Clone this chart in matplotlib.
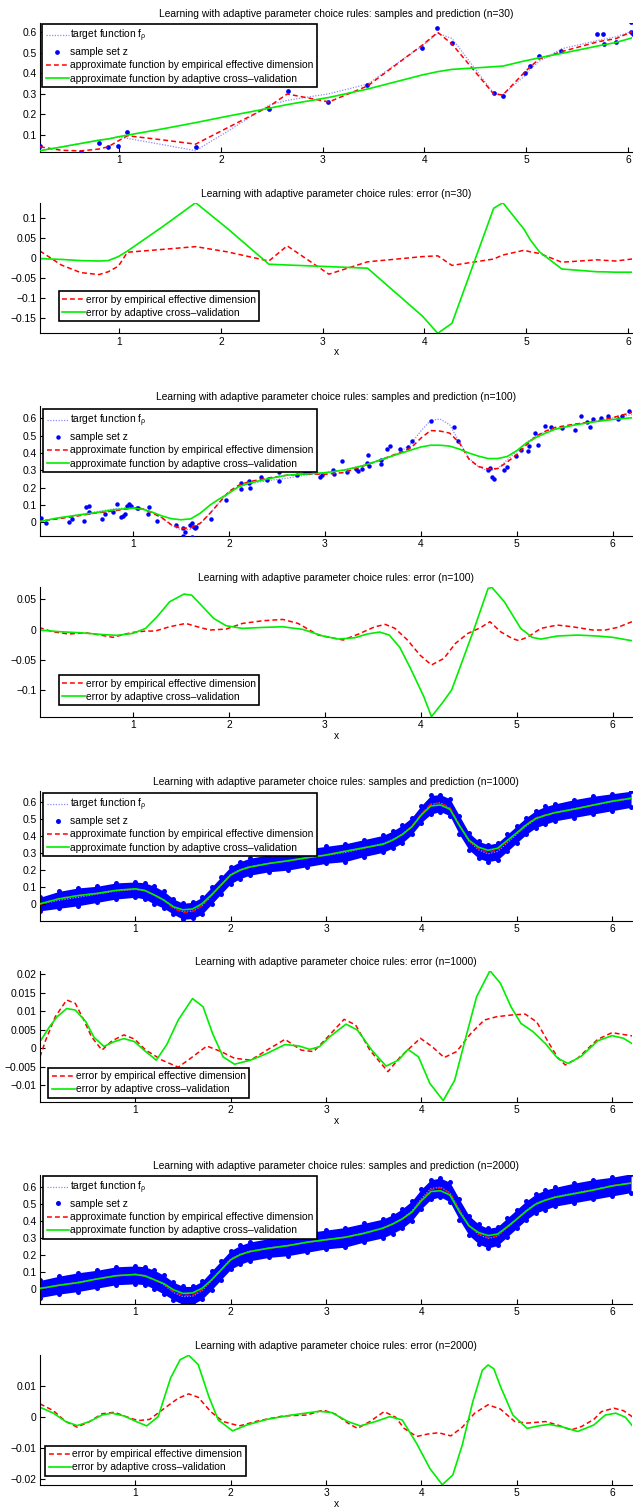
import matplotlib
matplotlib.use("Agg")
import matplotlib.pyplot as plt
from matplotlib.ticker import FuncFormatter

plt.rcParams["font.family"] = ["Liberation Sans", "DejaVu Sans"]
plt.rcParams["mathtext.fontset"] = "custom"
plt.rcParams["mathtext.rm"] = "Liberation Sans"
plt.rcParams["mathtext.it"] = "Liberation Sans:italic"

FS = 7.4
BLUE, RED, GREEN, TARGET = "#0000ff", "#ff0000", "#00ee00", "#8c8cff"

TITLE_FIT = "Learning with adaptive parameter choice rules: samples and prediction (n={})"
TITLE_ERR = "Learning with adaptive parameter choice rules: error (n={})"
LBL_TARGET = r"target function f$_{\mathrm{\rho}}$"
LBL_SAMPLE = "sample set z"
LBL_RED = "approximate function by empirical effective dimension"
LBL_GREEN = "approximate function by adaptive cross\u2013validation"
LBL_RED_ERR = "error by empirical effective dimension"
LBL_GREEN_ERR = "error by adaptive cross\u2013validation"

# ---------------- n = 30 ----------------
x30 = [0.22, 0.43, 0.62, 0.80, 0.89, 0.99, 1.08, 1.42, 1.75, 2.06, 2.47, 2.65, 3.06, 3.44,
       3.98, 4.13, 4.27, 4.68, 4.77, 4.98, 5.04, 5.13, 5.35, 5.70, 5.75, 5.88, 6.04]
target30 = [0.023, 0.040, 0.058, 0.074, 0.080, 0.088, 0.082, 0.052, 0.022, 0.115, 0.244, 0.268,
            0.300, 0.347, 0.535, 0.595, 0.570, 0.303, 0.295, 0.385, 0.420, 0.459, 0.520, 0.560,
            0.565, 0.578, 0.605]
red30 = [0.041, 0.024, 0.021, 0.030, 0.041, 0.070, 0.095, 0.075, 0.054, 0.133, 0.237, 0.299,
         0.260, 0.338, 0.538, 0.600, 0.543, 0.299, 0.294, 0.403, 0.432, 0.470, 0.506, 0.553,
         0.558, 0.569, 0.603]
green30 = [0.022, 0.040, 0.057, 0.073, 0.079, 0.090, 0.098, 0.128, 0.159, 0.190, 0.229, 0.247,
           0.282, 0.323, 0.392, 0.408, 0.419, 0.432, 0.435, 0.460, 0.466, 0.476, 0.497, 0.533,
           0.538, 0.550, 0.573]
red_err30 = [0.018, -0.017, -0.036, -0.041, -0.034, -0.020, 0.015, 0.022, 0.029, 0.016, -0.007,
             0.031, -0.040, -0.009, 0.004, 0.006, -0.018, -0.002, 0.008, 0.020, 0.016, 0.012,
             -0.010, -0.004, -0.005, -0.007, -0.002]
green_err30 = [-0.001, -0.003, -0.006, -0.007, -0.006, 0.004, 0.018, 0.078, 0.139, 0.075, -0.015,
               -0.017, -0.021, -0.025, -0.145, -0.188, -0.163, 0.125, 0.139, 0.072, 0.046, 0.016,
               -0.027, -0.034, -0.034, -0.035, -0.035]
xs30 = [0.222, 0.619, 0.80, 0.893, 0.99, 1.08, 1.754, 2.468, 2.655, 3.056, 3.437, 3.98, 4.127,
        4.274, 4.679, 4.77, 4.984, 5.036, 5.127, 5.345, 5.698, 5.75, 5.762, 5.881, 6.028, 6.028, 6.048]
ys30 = [0.045, 0.014, 0.058, 0.040, 0.046, 0.113, 0.041, 0.227, 0.312, 0.258, 0.341, 0.523, 0.623,
        0.550, 0.302, 0.289, 0.401, 0.437, 0.486, 0.509, 0.590, 0.590, 0.545, 0.551, 0.650, 0.603, 0.590]

# ------------- smooth grid (n = 100, 1000, 2000) -------------
xg = [0.0, 0.2, 0.4, 0.6, 0.8, 1.0, 1.1, 1.2, 1.3, 1.4, 1.5, 1.6, 1.7, 1.8, 1.9, 2.0, 2.1, 2.2,
      2.4, 2.6, 2.8, 3.0, 3.2, 3.4, 3.6, 3.7, 3.8, 3.9, 4.0, 4.1, 4.2, 4.3, 4.4, 4.5, 4.6, 4.7,
      4.8, 4.9, 5.0, 5.1, 5.2, 5.3, 5.4, 5.6, 5.8, 6.0, 6.2]
target = [0.000, 0.022, 0.040, 0.059, 0.077, 0.086, 0.079, 0.055, 0.025, -0.020, -0.045, -0.042,
          -0.010, 0.050, 0.114, 0.175, 0.204, 0.221, 0.240, 0.254, 0.273, 0.287, 0.304, 0.329,
          0.357, 0.381, 0.412, 0.456, 0.528, 0.588, 0.597, 0.563, 0.465, 0.370, 0.320, 0.296,
          0.310, 0.360, 0.410, 0.460, 0.500, 0.522, 0.540, 0.562, 0.582, 0.603, 0.622]

red100 = [0.004, 0.018, 0.034, 0.052, 0.065, 0.082, 0.077, 0.053, 0.026, -0.015, -0.036, -0.033,
          -0.006, 0.050, 0.114, 0.178, 0.213, 0.233, 0.255, 0.271, 0.279, 0.277, 0.287, 0.325,
          0.365, 0.386, 0.406, 0.432, 0.486, 0.530, 0.527, 0.515, 0.460, 0.365, 0.322, 0.308,
          0.310, 0.348, 0.392, 0.447, 0.498, 0.527, 0.548, 0.567, 0.582, 0.605, 0.635]
green100 = [0.000, 0.023, 0.039, 0.054, 0.072, 0.081, 0.075, 0.058, 0.036, 0.020, 0.014, 0.019,
            0.052, 0.098, 0.135, 0.168, 0.205, 0.225, 0.250, 0.272, 0.279, 0.286, 0.301, 0.327,
            0.364, 0.383, 0.400, 0.418, 0.435, 0.445, 0.445, 0.440, 0.423, 0.400, 0.382, 0.368,
            0.368, 0.380, 0.414, 0.458, 0.490, 0.515, 0.538, 0.562, 0.580, 0.594, 0.604]
red1000 = [-0.002, 0.033, 0.051, 0.062, 0.080, 0.088, 0.079, 0.053, 0.021, -0.025, -0.050, -0.044,
           -0.010, 0.050, 0.113, 0.172, 0.201, 0.218, 0.240, 0.256, 0.272, 0.290, 0.312, 0.332,
           0.352, 0.376, 0.410, 0.458, 0.531, 0.589, 0.595, 0.569, 0.465, 0.374, 0.326, 0.304,
           0.319, 0.369, 0.419, 0.469, 0.508, 0.525, 0.538, 0.559, 0.584, 0.607, 0.626]
green1000 = [0.002, 0.031, 0.050, 0.063, 0.081, 0.090, 0.080, 0.053, 0.023, -0.016, -0.034, -0.029,
             0.002, 0.055, 0.113, 0.171, 0.200, 0.218, 0.239, 0.255, 0.273, 0.289, 0.311, 0.332,
             0.353, 0.377, 0.410, 0.455, 0.525, 0.578, 0.584, 0.559, 0.462, 0.376, 0.335, 0.317,
             0.329, 0.374, 0.419, 0.466, 0.504, 0.523, 0.538, 0.559, 0.583, 0.606, 0.623]
red2000 = [0.004, 0.022, 0.037, 0.059, 0.078, 0.085, 0.078, 0.056, 0.028, -0.015, -0.038, -0.035,
           -0.005, 0.052, 0.113, 0.173, 0.201, 0.219, 0.239, 0.254, 0.274, 0.289, 0.303, 0.326,
           0.359, 0.382, 0.409, 0.450, 0.522, 0.583, 0.592, 0.564, 0.461, 0.369, 0.323, 0.300,
           0.313, 0.360, 0.408, 0.458, 0.498, 0.520, 0.538, 0.558, 0.581, 0.606, 0.622]
green2000 = [0.003, 0.022, 0.037, 0.059, 0.078, 0.085, 0.076, 0.054, 0.031, -0.005, -0.026, -0.023,
             0.004, 0.054, 0.112, 0.171, 0.201, 0.219, 0.239, 0.254, 0.274, 0.289, 0.303, 0.326,
             0.357, 0.381, 0.411, 0.450, 0.517, 0.571, 0.576, 0.551, 0.452, 0.370, 0.331, 0.313,
             0.322, 0.364, 0.409, 0.456, 0.497, 0.520, 0.537, 0.558, 0.579, 0.604, 0.620]

# sample clouds of n = 1000 / 2000: upper and lower edge of the point cloud
cloud_hi1000 = [0.040, 0.075, 0.095, 0.105, 0.125, 0.130, 0.125, 0.105, 0.075, 0.030, 0.005, 0.010,
                0.040, 0.100, 0.160, 0.220, 0.250, 0.270, 0.290, 0.305, 0.325, 0.340, 0.355, 0.380,
                0.405, 0.430, 0.465, 0.510, 0.580, 0.640, 0.645, 0.620, 0.520, 0.420, 0.370, 0.350,
                0.360, 0.410, 0.460, 0.510, 0.550, 0.575, 0.590, 0.615, 0.635, 0.650, 0.665]
cloud_lo1000 = [-0.040, -0.025, -0.010, 0.010, 0.030, 0.040, 0.030, 0.000, -0.025, -0.060, -0.090,
                -0.085, -0.060, 0.000, 0.060, 0.120, 0.150, 0.170, 0.190, 0.200, 0.220, 0.240, 0.250,
                0.280, 0.305, 0.330, 0.360, 0.410, 0.480, 0.530, 0.545, 0.520, 0.410, 0.320, 0.270,
                0.250, 0.260, 0.310, 0.360, 0.410, 0.450, 0.470, 0.490, 0.510, 0.530, 0.550, 0.570]
cloud_hi2000 = [0.050, 0.075, 0.095, 0.110, 0.130, 0.135, 0.130, 0.110, 0.080, 0.040, 0.015, 0.015,
                0.045, 0.105, 0.165, 0.225, 0.255, 0.275, 0.295, 0.310, 0.330, 0.345, 0.360, 0.385,
                0.410, 0.435, 0.470, 0.515, 0.585, 0.640, 0.650, 0.625, 0.525, 0.430, 0.380, 0.355,
                0.365, 0.415, 0.465, 0.515, 0.555, 0.580, 0.595, 0.620, 0.640, 0.655, 0.675]
cloud_lo2000 = [-0.050, -0.030, -0.015, 0.005, 0.025, 0.030, 0.025, 0.000, -0.030, -0.065, -0.090,
                -0.090, -0.060, -0.005, 0.055, 0.115, 0.145, 0.165, 0.185, 0.195, 0.215, 0.235, 0.245,
                0.275, 0.300, 0.325, 0.355, 0.400, 0.470, 0.525, 0.540, 0.510, 0.405, 0.315, 0.265,
                0.240, 0.255, 0.305, 0.355, 0.405, 0.445, 0.465, 0.485, 0.505, 0.525, 0.545, 0.565]

# samples n = 100
xs100 = [0.04, 0.09, 0.33, 0.36, 0.49, 0.51, 0.54, 0.54, 0.68, 0.71, 0.79, 0.83, 0.87, 0.89, 0.92,
         0.94, 0.96, 0.98, 1.04, 1.05, 1.16, 1.17, 1.25, 1.45, 1.52, 1.54, 1.52, 1.59, 1.61, 1.61,
         1.63, 1.65, 1.66, 1.81, 1.97, 2.12, 2.13, 2.21, 2.21, 2.22, 2.33, 2.40, 2.52, 2.52, 2.71,
         2.79, 2.83, 2.95, 2.97, 3.08, 3.09, 3.18, 3.23, 3.32, 3.34, 3.39, 3.44, 3.45, 3.46, 3.58,
         3.58, 3.65, 3.68, 3.78, 3.87, 3.91, 4.11, 4.34, 4.39, 4.70, 4.72, 4.74, 4.76, 4.87, 4.90,
         4.99, 5.04, 5.12, 5.13, 5.19, 5.22, 5.29, 5.36, 5.47, 5.61, 5.67, 5.73, 5.76, 5.79, 5.88,
         5.95, 6.05, 6.10, 6.17]
ys100 = [0.025, -0.006, 0.002, 0.021, 0.006, 0.088, 0.094, 0.056, 0.019, 0.049, 0.058, 0.107, 0.031,
         0.035, 0.049, 0.095, 0.103, 0.092, 0.080, 0.084, 0.045, 0.086, 0.008, -0.018, -0.033,
         -0.055, -0.078, -0.018, -0.088, -0.002, -0.029, -0.035, -0.029, 0.021, 0.131, 0.189,
         0.224, 0.238, 0.224, 0.195, 0.259, 0.244, 0.292, 0.238, 0.273, 0.292, 0.292, 0.259, 0.271,
         0.302, 0.279, 0.351, 0.292, 0.306, 0.298, 0.308, 0.341, 0.390, 0.327, 0.335, 0.360, 0.423,
         0.442, 0.425, 0.436, 0.471, 0.583, 0.549, 0.468, 0.302, 0.312, 0.263, 0.251, 0.302, 0.321,
         0.380, 0.415, 0.414, 0.439, 0.517, 0.449, 0.555, 0.552, 0.546, 0.536, 0.613, 0.581, 0.552,
         0.594, 0.600, 0.613, 0.594, 0.613, 0.643]

# errors n = 100
x_gerr100 = [0.02, 0.24, 0.45, 0.66, 0.83, 1.0, 1.13, 1.25, 1.38, 1.53, 1.61, 1.71, 1.84, 1.97, 2.14,
             2.35, 2.56, 2.77, 2.98, 3.14, 3.31, 3.44, 3.57, 3.67, 3.78, 3.90, 4.03, 4.11, 4.22, 4.32,
             4.41, 4.55, 4.70, 4.74, 4.87, 5.04, 5.16, 5.25, 5.42, 5.63, 5.84, 6.0, 6.2]
gerr100 = [-0.0005, -0.0033, -0.005, -0.0077, -0.0093, -0.006, 0.0022, 0.0214, 0.046, 0.0588,
           0.0571, 0.0407, 0.0187, 0.0066, 0.0022, 0.0038, 0.0049, 0.0005, -0.0104, -0.0154, -0.0132,
           -0.0071, -0.0038, -0.0088, -0.0291, -0.0665, -0.1104, -0.1434, -0.1214, -0.0995, -0.061,
           -0.0005, 0.0681, 0.0698, 0.046, 0.0022, -0.0126, -0.0154, -0.0104, -0.0088, -0.0104,
           -0.0126, -0.0181]
x_rerr100 = [0.02, 0.16, 0.33, 0.50, 0.66, 0.79, 0.92, 1.0, 1.13, 1.23, 1.38, 1.55, 1.67, 1.80, 1.97,
             2.14, 2.35, 2.56, 2.72, 2.93, 3.19, 3.35, 3.52, 3.63, 3.73, 3.86, 3.99, 4.11, 4.24, 4.36,
             4.49, 4.62, 4.72, 4.83, 4.95, 5.02, 5.12, 5.25, 5.42, 5.58, 5.79, 5.92, 6.05, 6.2]
rerr100 = [0.0038, -0.0033, -0.0071, -0.005, -0.0088, -0.0126, -0.0071, -0.0044, -0.0022, -0.0022,
           0.0049, 0.0104, 0.0049, -0.0005, 0.0011, 0.0104, 0.0148, 0.017, 0.0104, -0.0088, -0.017,
           -0.0071, 0.0049, 0.0088, 0.0022, -0.017, -0.0418, -0.0582, -0.0473, -0.0225, -0.006,
           0.0033, 0.0132, -0.0033, -0.0143, -0.0181, -0.0115, 0.0022, 0.0077, 0.0049, -0.0005,
           -0.0005, 0.0038, 0.0132]

# errors n = 1000
x_gerr1000 = [0.0, 0.10, 0.18, 0.28, 0.37, 0.48, 0.565, 0.67, 0.78, 0.88, 0.99, 1.09, 1.22, 1.33,
              1.45, 1.60, 1.71, 1.81, 1.92, 2.04, 2.21, 2.38, 2.57, 2.72, 2.83, 2.93, 3.04, 3.21,
              3.33, 3.48, 3.63, 3.76, 3.86, 3.97, 4.09, 4.23, 4.35, 4.45, 4.58, 4.72, 4.83, 4.94,
              5.045, 5.17, 5.30, 5.43, 5.54, 5.68, 5.85, 6.0, 6.12, 6.22]
gerr1000 = [0.0018, 0.0058, 0.0085, 0.0107, 0.0103, 0.0072, 0.003, 0.0005, 0.0018, 0.0026, 0.0018,
            -0.0005, -0.0032, 0.001, 0.0076, 0.0134, 0.0112, 0.004, -0.0023, -0.0043, -0.0032,
            -0.0014, 0.001, 0.0006, -0.0003, 0.0004, 0.0031, 0.0065, 0.0049, -0.0005, -0.0048,
            -0.0032, -0.0003, -0.0023, -0.0095, -0.0141, -0.0086, 0.0013, 0.0139, 0.0209, 0.0175,
            0.0112, 0.0067, 0.0045, 0.0013, -0.0027, -0.0041, -0.0021, 0.002, 0.0034, 0.0027, 0.0011]
x_rerr1000 = [0.0, 0.06, 0.16, 0.28, 0.37, 0.46, 0.54, 0.65, 0.755, 0.88, 0.99, 1.11, 1.28, 1.45,
              1.58, 1.75, 1.90, 2.04, 2.21, 2.38, 2.57, 2.74, 2.87, 3.02, 3.19, 3.31, 3.46, 3.65,
              3.78, 3.99, 4.115, 4.24, 4.37, 4.52, 4.66, 4.79, 4.96, 5.09, 5.21, 5.34, 5.43, 5.51,
              5.64, 5.85, 6.0, 6.22]
rerr1000 = [-0.0023, 0.0022, 0.0085, 0.013, 0.0121, 0.0076, 0.0031, -0.0005, 0.002, 0.0036, 0.0025,
            -0.0005, -0.0032, -0.0051, -0.0027, 0.0006, -0.0009, -0.0027, -0.0032, -0.0005, 0.0024,
            -0.0005, -0.0009, 0.0031, 0.0078, 0.0063, -0.0005, -0.0063, -0.0023, 0.0027, 0.0004,
            -0.0025, -0.0009, 0.004, 0.0076, 0.0085, 0.009, 0.0092, 0.0071, 0.0013, -0.0025, -0.0045,
            -0.0027, 0.0024, 0.0042, 0.0033]

# errors n = 2000
x_gerr2000 = [0.0, 0.14, 0.27, 0.39, 0.52, 0.65, 0.755, 0.88, 1.01, 1.12, 1.24, 1.37, 1.47, 1.56,
              1.66, 1.77, 1.87, 2.02, 2.17, 2.38, 2.64, 2.93, 3.06, 3.23, 3.36, 3.52, 3.67, 3.80,
              3.95, 4.09, 4.22, 4.33, 4.43, 4.54, 4.64, 4.70, 4.76, 4.83, 4.96, 5.11, 5.23, 5.34,
              5.49, 5.64, 5.81, 5.93, 6.04, 6.14, 6.22]
gerr2000 = [0.0031, 0.0012, -0.0015, -0.0028, -0.0015, 0.0006, 0.0012, 0.0003, -0.0015, -0.0029,
            0.0001, 0.0125, 0.0184, 0.0198, 0.0168, 0.0066, -0.001, -0.0045, -0.0026, -0.0008,
            0.0006, 0.0018, 0.0014, -0.0015, -0.0029, -0.0015, 0.0001, -0.001, -0.0085, -0.0166,
            -0.0218, -0.0187, -0.009, 0.0049, 0.015, 0.0167, 0.0155, 0.0098, 0.0006, -0.0037,
            -0.0029, -0.0024, -0.0033, -0.0047, -0.0026, 0.0006, 0.0012, -0.0001, -0.0031]
x_rerr2000 = [0.0, 0.14, 0.27, 0.39, 0.52, 0.65, 0.78, 0.90, 1.03, 1.15, 1.28, 1.45, 1.56, 1.66,
              1.79, 1.92, 2.09, 2.30, 2.55, 2.80, 2.97, 3.10, 3.23, 3.33, 3.46, 3.61, 3.73, 3.82,
              3.95, 4.07, 4.18, 4.31, 4.43, 4.56, 4.70, 4.83, 4.98, 5.11, 5.30, 5.43, 5.57, 5.68,
              5.81, 5.89, 6.02, 6.12, 6.22]
rerr2000 = [0.0042, 0.002, -0.0015, -0.0033, -0.0015, 0.001, 0.0015, 0.0001, -0.0012, -0.0008,
            0.0022, 0.006, 0.0074, 0.0063, 0.0017, -0.0015, -0.0029, -0.0012, 0.0003, 0.0006,
            0.0022, 0.0009, -0.002, -0.0037, -0.0015, 0.0017, -0.0001, -0.0037, -0.0063, -0.0055,
            -0.0051, -0.0061, -0.0033, 0.0012, 0.0039, 0.0025, -0.0015, -0.002, -0.0015, -0.0026,
            -0.0042, -0.0031, -0.0008, 0.0017, 0.0028, 0.002, -0.0001]

# ---------------- layout (pixels of a 633 x 1511 canvas) ----------------
W, H = 633, 1511
AX_LEFT, AX_RIGHT = 40, 632
PANEL_TOP = [22.7, 202.7, 406, 586.7, 790.7, 970.7, 1175, 1355]
PANEL_BOT = [151.7, 333.3, 536, 716.7, 920.7, 1101.7, 1304, 1485]
LEG_POS = [(42.4, 24.3), (58.5, 291), (43.2, 409.3), (58.5, 675),
           (43.2, 793.3), (48.4, 1067.7), (43.2, 1176), (45.2, 1445.7)]


def fmt_tick(v, pos):
    if abs(v) < 1e-12:
        return "0"
    return ("%g" % round(v, 4)).replace("-", "\u2212")


def make_axes(fig, i):
    top, bot = PANEL_TOP[i], PANEL_BOT[i]
    return fig.add_axes([AX_LEFT / W, 1 - bot / H, (AX_RIGHT - AX_LEFT) / W, (bot - top) / H])


def style_axes(ax, xlim, ylim, yticks, title):
    ax.set_xlim(xlim)
    ax.set_ylim(ylim)
    ax.set_xticks([1, 2, 3, 4, 5, 6])
    ax.set_yticks(yticks)
    ax.yaxis.set_major_formatter(FuncFormatter(fmt_tick))
    for side in ("top", "right"):
        ax.spines[side].set_visible(False)
    for side in ("left", "bottom"):
        ax.spines[side].set_linewidth(0.8)
    ax.tick_params(direction="in", length=3.5, width=0.8, labelsize=FS, pad=2.5)
    ax.set_title(title, fontsize=FS, pad=4)


def add_legend(ax, i):
    top, bot = PANEL_TOP[i], PANEL_BOT[i]
    lx, ly = LEG_POS[i]
    anchor = ((lx - AX_LEFT) / (AX_RIGHT - AX_LEFT), (bot - ly) / (bot - top))
    leg = ax.legend(loc="upper left", bbox_to_anchor=anchor, borderaxespad=0, fontsize=FS,
                    fancybox=False, framealpha=1, edgecolor="black", handlelength=2.2,
                    handletextpad=0.1, borderpad=0.35, labelspacing=0.3)
    leg.get_frame().set_linewidth(1.2)


def plot_fit(ax, x, tgt, red, green):
    ax.plot(x, tgt, ls=(0, (1, 1.2)), color=TARGET, lw=0.9, label=LBL_TARGET, zorder=2)
    ax.plot(x, red, ls=(0, (3.2, 2)), color=RED, lw=1.1, label=LBL_RED, zorder=4)
    ax.plot(x, green, color=GREEN, lw=1.2, label=LBL_GREEN, zorder=5)


def plot_err(ax, xr, red, xg, green):
    ax.plot(xr, red, ls=(0, (3.2, 2)), color=RED, lw=1.1, label=LBL_RED_ERR)
    ax.plot(xg, green, color=GREEN, lw=1.2, label=LBL_GREEN_ERR)
    ax.set_xlabel("x", fontsize=FS, labelpad=0.5)


def reorder_legend(ax, i):
    handles, labels = ax.get_legend_handles_labels()
    order = [LBL_TARGET, LBL_SAMPLE, LBL_RED, LBL_GREEN]
    pairs = dict(zip(labels, handles))
    ax.legend([pairs[k] for k in order], order)
    add_legend_existing(ax, i, [pairs[k] for k in order], order)


def add_legend_existing(ax, i, handles, labels):
    top, bot = PANEL_TOP[i], PANEL_BOT[i]
    lx, ly = LEG_POS[i]
    anchor = ((lx - AX_LEFT) / (AX_RIGHT - AX_LEFT), (bot - ly) / (bot - top))
    leg = ax.legend(handles, labels, loc="upper left", bbox_to_anchor=anchor, borderaxespad=0,
                    fontsize=FS, fancybox=False, framealpha=1, edgecolor="black",
                    handlelength=2.2, handletextpad=0.1, borderpad=0.35, labelspacing=0.3)
    leg.get_frame().set_linewidth(1.2)


fig = plt.figure(figsize=(W / 100, H / 100), dpi=100)

# panel 1: n = 30 fit
ax = make_axes(fig, 0)
ax.plot(xs30, ys30, "o", color=BLUE, ms=3.4, mew=0, label=LBL_SAMPLE, zorder=3)
plot_fit(ax, x30, target30, red30, green30)
style_axes(ax, (0.22, 6.04), (0.017, 0.647), [0.1, 0.2, 0.3, 0.4, 0.5, 0.6], TITLE_FIT.format(30))
reorder_legend(ax, 0)

# panel 2: n = 30 error
ax = make_axes(fig, 1)
plot_err(ax, x30, red_err30, x30, green_err30)
style_axes(ax, (0.22, 6.04), (-0.188, 0.139), [-0.15, -0.1, -0.05, 0, 0.05, 0.1], TITLE_ERR.format(30))
add_legend(ax, 1)

# panel 3: n = 100 fit
ax = make_axes(fig, 2)
ax.plot(xs100, ys100, "o", color=BLUE, ms=3.2, mew=0, label=LBL_SAMPLE, zorder=3)
plot_fit(ax, xg, target, red100, green100)
style_axes(ax, (0.03, 6.2), (-0.08, 0.672), [0, 0.1, 0.2, 0.3, 0.4, 0.5, 0.6], TITLE_FIT.format(100))
reorder_legend(ax, 2)

# panel 4: n = 100 error
ax = make_axes(fig, 3)
plot_err(ax, x_rerr100, rerr100, x_gerr100, gerr100)
style_axes(ax, (0.03, 6.2), (-0.1435, 0.071), [-0.1, -0.05, 0, 0.05], TITLE_ERR.format(100))
add_legend(ax, 3)

# panel 5: n = 1000 fit
ax = make_axes(fig, 4)
ax.fill_between(xg, cloud_lo1000, cloud_hi1000, color=BLUE, lw=0, zorder=1)
ax.plot(xg, cloud_hi1000, "o", color=BLUE, ms=3.6, mew=0, label=LBL_SAMPLE, zorder=1)
ax.plot(xg, cloud_lo1000, "o", color=BLUE, ms=3.6, mew=0, zorder=1)
plot_fit(ax, xg, target, red1000, green1000)
style_axes(ax, (0.0, 6.21), (-0.098, 0.668), [0, 0.1, 0.2, 0.3, 0.4, 0.5, 0.6], TITLE_FIT.format(1000))
reorder_legend(ax, 4)

# panel 6: n = 1000 error
ax = make_axes(fig, 5)
plot_err(ax, x_rerr1000, rerr1000, x_gerr1000, gerr1000)
style_axes(ax, (0.0, 6.21), (-0.0144, 0.0209),
           [-0.01, -0.005, 0, 0.005, 0.01, 0.015, 0.02], TITLE_ERR.format(1000))
add_legend(ax, 5)

# panel 7: n = 2000 fit
ax = make_axes(fig, 6)
ax.fill_between(xg, cloud_lo2000, cloud_hi2000, color=BLUE, lw=0, zorder=1)
ax.plot(xg, cloud_hi2000, "o", color=BLUE, ms=3.6, mew=0, label=LBL_SAMPLE, zorder=1)
ax.plot(xg, cloud_lo2000, "o", color=BLUE, ms=3.6, mew=0, zorder=1)
plot_fit(ax, xg, target, red2000, green2000)
style_axes(ax, (0.0, 6.21), (-0.088, 0.668), [0, 0.1, 0.2, 0.3, 0.4, 0.5, 0.6], TITLE_FIT.format(2000))
reorder_legend(ax, 6)

# panel 8: n = 2000 error
ax = make_axes(fig, 7)
plot_err(ax, x_rerr2000, rerr2000, x_gerr2000, gerr2000)
style_axes(ax, (0.0, 6.21), (-0.0219, 0.0199), [-0.02, -0.01, 0, 0.01], TITLE_ERR.format(2000))
add_legend(ax, 7)

fig.savefig("out.png", dpi=100)
